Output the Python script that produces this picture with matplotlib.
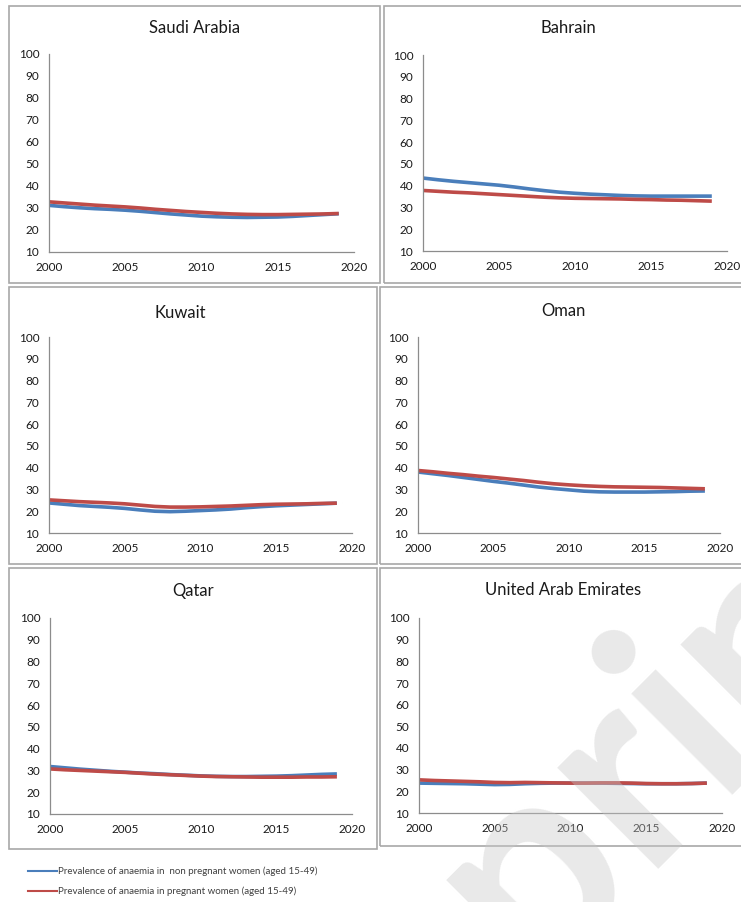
import matplotlib.pyplot as plt
from matplotlib.patches import Rectangle
from matplotlib.lines import Line2D

plt.rcParams['font.family'] = ['Lato', 'DejaVu Sans']

years = list(range(2000, 2020))
countries = ["Saudi Arabia", "Bahrain", "Kuwait", "Oman", "Qatar", "United Arab Emirates"]

# prevalence of anaemia (%), non pregnant women aged 15-49
saudi_non = [31.2, 30.6, 30.1, 29.7, 29.4, 29.0, 28.5, 27.9, 27.3, 26.8,
             26.3, 26.0, 25.8, 25.7, 25.8, 25.9, 26.2, 26.6, 27.0, 27.4]
bahrain_non = [43.5, 42.7, 42.0, 41.4, 40.8, 40.2, 39.4, 38.5, 37.7, 37.0,
               36.5, 36.1, 35.8, 35.5, 35.3, 35.2, 35.2, 35.2, 35.2, 35.2]
kuwait_non = [23.8, 23.2, 22.6, 22.2, 21.8, 21.3, 20.6, 20.0, 19.8, 20.0,
              20.3, 20.6, 21.0, 21.6, 22.1, 22.5, 22.8, 23.1, 23.4, 23.7]
oman_non = [38.0, 37.2, 36.4, 35.5, 34.6, 33.7, 32.9, 32.0, 31.1, 30.4,
            29.8, 29.2, 28.9, 28.8, 28.8, 28.8, 28.9, 29.0, 29.2, 29.3]
qatar_non = [31.8, 31.2, 30.6, 30.1, 29.6, 29.2, 28.8, 28.5, 28.1, 27.8,
             27.5, 27.3, 27.2, 27.2, 27.3, 27.4, 27.6, 27.9, 28.2, 28.4]
uae_non = [23.8, 23.7, 23.6, 23.5, 23.3, 23.1, 23.2, 23.5, 23.7, 23.8,
           23.8, 23.8, 23.8, 23.7, 23.6, 23.5, 23.5, 23.5, 23.6, 23.8]

# prevalence of anaemia (%), pregnant women aged 15-49
saudi_preg = [32.8, 32.3, 31.8, 31.3, 30.9, 30.5, 30.0, 29.4, 28.9, 28.4,
              28.0, 27.6, 27.3, 27.1, 27.0, 27.0, 27.1, 27.2, 27.3, 27.5]
bahrain_preg = [37.8, 37.4, 37.0, 36.7, 36.3, 35.9, 35.5, 35.1, 34.7, 34.4,
                34.2, 34.1, 34.0, 33.9, 33.7, 33.6, 33.4, 33.3, 33.1, 32.9]
kuwait_preg = [25.2, 24.8, 24.4, 24.1, 23.8, 23.4, 22.8, 22.2, 21.9, 21.9,
               22.0, 22.2, 22.4, 22.7, 23.0, 23.2, 23.3, 23.4, 23.6, 23.7]
oman_preg = [38.7, 38.1, 37.4, 36.8, 36.1, 35.5, 34.8, 34.1, 33.3, 32.6,
             32.1, 31.7, 31.4, 31.2, 31.1, 31.0, 30.9, 30.7, 30.5, 30.3]
qatar_preg = [30.7, 30.3, 30.0, 29.7, 29.4, 29.1, 28.7, 28.3, 28.0, 27.7,
              27.4, 27.2, 27.1, 27.0, 26.9, 26.9, 26.9, 27.0, 27.0, 27.1]
uae_preg = [25.3, 25.0, 24.8, 24.6, 24.4, 24.1, 24.0, 24.1, 24.0, 23.9,
            23.8, 23.8, 23.9, 23.9, 23.8, 23.6, 23.5, 23.5, 23.6, 23.8]

non_pregnant = [saudi_non, bahrain_non, kuwait_non, oman_non, qatar_non, uae_non]
pregnant = [saudi_preg, bahrain_preg, kuwait_preg, oman_preg, qatar_preg, uae_preg]

x_ticks = [2000, 2005, 2010, 2015, 2020]
y_ticks = [10, 20, 30, 40, 50, 60, 70, 80, 90, 100]

W, H = 741, 902
BLUE = "#4a7ebb"
RED = "#be4b48"

# pixel boxes (left, right, top, bottom) for plot area, frame and title
plot_boxes = [(49, 354, 54, 252), (423, 727, 55, 251),
              (49, 352, 337, 533), (418, 720, 337, 533),
              (50, 352, 618, 814), (419, 722, 618, 813)]
frame_boxes = [(9, 380, 6, 283), (384, 746, 6, 283),
               (9, 377, 287, 564), (380, 746, 287, 564),
               (9, 377, 568, 849), (380, 746, 568, 846)]
title_pos = [(195, 28), (568, 28), (180, 313), (563, 311), (193, 591), (563, 590)]

fig = plt.figure(figsize=(W / 100, H / 100), dpi=100)
fig.patch.set_facecolor("white")

for (l, r, t, b) in frame_boxes:
    fig.patches.append(Rectangle((l / W, 1 - b / H), (r - l) / W, (b - t) / H,
                                 transform=fig.transFigure, fill=False,
                                 edgecolor="#a8a8a8", linewidth=1.2))

for i, name in enumerate(countries):
    l, r, t, b = plot_boxes[i]
    ax = fig.add_axes([l / W, 1 - b / H, (r - l) / W, (b - t) / H])
    ax.plot(years, non_pregnant[i], color=BLUE, linewidth=2.6, solid_capstyle="butt")
    ax.plot(years, pregnant[i], color=RED, linewidth=2.6, solid_capstyle="butt")
    ax.set_xlim(2000, 2020)
    ax.set_ylim(10, 100)
    ax.set_xticks(x_ticks)
    ax.set_yticks(y_ticks)
    ax.tick_params(length=0, labelsize=8.5, colors="#1a1a1a")
    ax.tick_params(axis="y", pad=7)
    ax.tick_params(axis="x", pad=7)
    for side in ["top", "right"]:
        ax.spines[side].set_visible(False)
    for side in ["left", "bottom"]:
        ax.spines[side].set_color("#8c8c8c")
        ax.spines[side].set_linewidth(0.9)
    ax.patch.set_alpha(0)
    tx, ty = title_pos[i]
    fig.text(tx / W, 1 - ty / H, name, ha="center", va="center",
             fontsize=12, color="#1a1a1a")

# legend below the panels
legend_items = [(871, BLUE, "Prevalence of anaemia in  non pregnant women (aged 15-49)"),
                (891, RED, "Prevalence of anaemia in pregnant women (aged 15-49)")]
for y, col, label in legend_items:
    fig.lines.append(Line2D([28 / W, 57 / W], [1 - y / H, 1 - y / H],
                            transform=fig.transFigure, color=col, linewidth=1.5))
    fig.text(58 / W, 1 - y / H, label, ha="left", va="center",
             fontsize=7, color="#404040")

# faint watermark across the lower right
fig.text(532 / W, 1 - 860 / H, "Preprint", ha="center", va="center",
         fontsize=200, fontweight="bold", rotation=45, color="#c8c8c8",
         alpha=0.4, zorder=10)

fig.savefig("out.png", dpi=100)
